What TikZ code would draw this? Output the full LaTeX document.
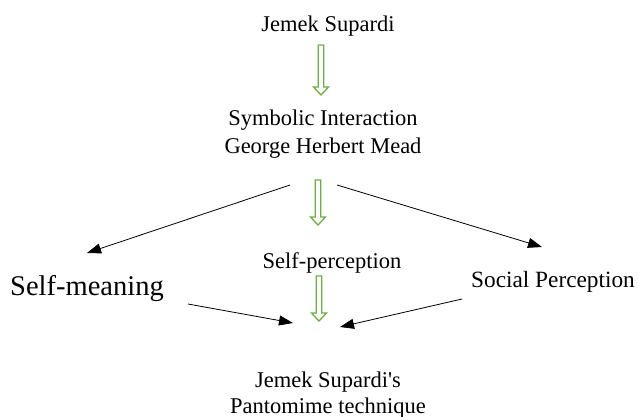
\documentclass[tikz,border=0pt]{standalone}
\usepackage{fontspec}
\setmainfont{Liberation Serif}
\usetikzlibrary{arrows.meta}
\definecolor{arrgreen}{HTML}{70AD47}
\tikzset{
  txt/.style={inner sep=0pt, font=\fontsize{22.5}{28}\selectfont, align=center},
  bigtxt/.style={inner sep=0pt, font=\fontsize{28.5}{34}\selectfont},
  conn/.style={draw=black, line width=0.8pt, -{Triangle[length=14pt,width=10pt]}},
  hollow/.style={draw=arrgreen, fill=white, line width=1.3pt, line join=miter}
}
\newcommand{\hollowarrow}[3]{%
  \draw[hollow] ({#1-2.75},#2) -- ({#1+2.75},#2) -- ({#1+2.75},{#3-8}) -- ({#1+7.5},{#3-8})
    -- (#1,#3) -- ({#1-7.5},{#3-8}) -- ({#1-2.75},{#3-8}) -- cycle;}
\begin{document}
\begin{tikzpicture}[x=1pt,y=-1pt]
\useasboundingbox[fill=white] (0,0) rectangle (639,417);
% text nodes
\node[txt, anchor=base] (js) at (328,32) {Jemek Supardi};
\node[txt, anchor=base] (sym) at (323,153) {Symbolic Interaction\\George Herbert Mead};
\node[bigtxt, anchor=base] (sm) at (87,295) {Self-meaning};
\node[txt, anchor=base] (sp) at (332,268) {Self-perception};
\node[txt, anchor=base, font=\fontsize{23.3}{28}\selectfont] (soc) at (553,287) {Social Perception};
\node[txt, anchor=base, font=\fontsize{22.5}{26}\selectfont] (pt) at (328,413) {Jemek Supardi\textquotesingle s\\Pantomime technique};
% green hollow arrows
\hollowarrow{321}{45}{95}
\hollowarrow{318}{180}{225}
\hollowarrow{319}{276}{321}
% connector end points
\coordinate (symL) at (290,185);
\coordinate (symR) at (337,185);
\coordinate (smIn) at (87,253);
\coordinate (socIn) at (542,247);
\coordinate (smOut) at (188,304);
\coordinate (socOut) at (462,299);
\coordinate (ptL) at (293,323);
\coordinate (ptR) at (340,327);
% black connectors
\draw[conn] (symL) -- (smIn);
\draw[conn] (symR) -- (socIn);
\draw[conn] (smOut) -- (ptL);
\draw[conn] (socOut) -- (ptR);
\end{tikzpicture}
\end{document}
